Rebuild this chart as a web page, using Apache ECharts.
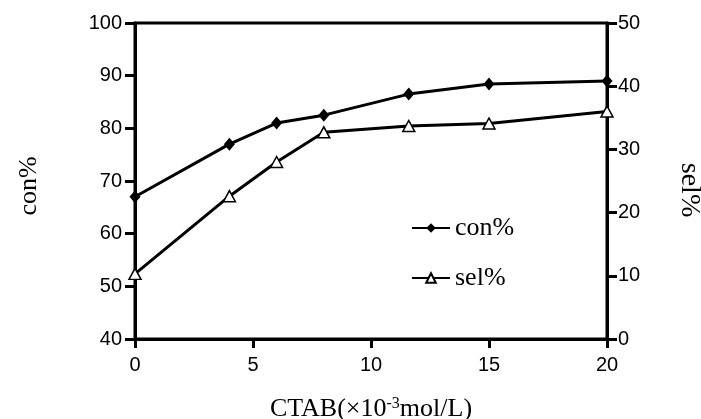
<!DOCTYPE html>
<html>
<head>
<meta charset="utf-8">
<script src="https://cdn.jsdelivr.net/npm/echarts@6/dist/echarts.min.js"></script>
<style>
html,body{margin:0;padding:0;background:#fff;}
#main{width:701px;height:419px;}
</style>
</head>
<body>
<div id="main"></div>
<script>
var ctab=[0,4,6,8,11.6,15,20];
var con=[67,77,81,82.5,86.5,88.4,89];
var sel=[10.3,22.6,28,32.7,33.7,34.1,36];

function pairs(xs,ys){
    var out=[];
    for(var i=0;i<xs.length;i++){
        out.push([xs[i],ys[i]]);
    }
    return out;
}

var tickFont={color:'#000',fontFamily:'Liberation Sans, Arial, sans-serif',fontSize:20};
var serif='Liberation Serif, Times New Roman, serif';

option = {
    animation:false,
    backgroundColor:'#fff',
    grid:{
        left:135,right:94,top:23,bottom:80,
        outerBoundsMode:'none',
        containLabel:false,
        show:true,borderColor:'#000',borderWidth:3
    },
    legend:{
        orient:'vertical',
        left:406,top:210,
        itemWidth:38,itemHeight:12,itemGap:24,
        textStyle:{fontFamily:serif,fontSize:26,color:'#000'},
        data:['con%','sel%']
    },
    xAxis:{
        type:'value',
        min:0,max:20,interval:5,
        name:'CTAB(×10{s|-3}mol/L)',
        nameLocation:'middle',
        nameGap:57,
        nameTextStyle:{
            fontFamily:serif,fontSize:26,color:'#000',
            rich:{s:{fontFamily:serif,fontSize:16,color:'#000',verticalAlign:'top',padding:[0,0,8,0]}}
        },
        axisLine:{lineStyle:{color:'#000',width:3}},
        axisTick:{length:9,lineStyle:{color:'#000',width:3}},
        axisLabel:Object.assign({margin:16},tickFont),
        splitLine:{show:false}
    },
    yAxis:[
        {
            type:'value',
            min:40,max:100,interval:10,
            name:'con%',
            nameLocation:'middle',
            nameGap:93,
            nameTextStyle:{fontFamily:serif,fontSize:26,color:'#000',padding:[0,10,0,0]},
            axisLine:{show:true,lineStyle:{color:'#000',width:3}},
            axisTick:{show:true,length:10,lineStyle:{color:'#000',width:3}},
            axisLabel:Object.assign({margin:13},tickFont),
            splitLine:{show:false}
        },
        {
            type:'value',
            min:0,max:50,interval:10,
            position:'right',
            name:'sel%',
            nameLocation:'middle',
            nameGap:68,
            nameRotate:-90,
            nameTextStyle:{fontFamily:serif,fontSize:28,color:'#000',padding:[0,0,0,18]},
            axisLine:{show:true,lineStyle:{color:'#000',width:3}},
            axisTick:{show:true,length:10,lineStyle:{color:'#000',width:3}},
            axisLabel:Object.assign({margin:11},tickFont),
            splitLine:{show:false}
        }
    ],
    series:[
        {
            name:'con%',
            type:'line',
            yAxisIndex:0,
            data:pairs(ctab,con),
            symbol:'diamond',
            symbolSize:[11,13],
            lineStyle:{color:'#000',width:3},
            itemStyle:{color:'#000'}
        },
        {
            name:'sel%',
            type:'line',
            yAxisIndex:1,
            data:pairs(ctab,sel),
            symbol:'triangle',
            symbolSize:[12,11],
            lineStyle:{color:'#000',width:3},
            itemStyle:{color:'#fff',borderColor:'#000',borderWidth:1.5}
        }
    ]
};
var myChart = echarts.init(document.getElementById('main'));
myChart.setOption(option);
window.onresize = myChart.resize;
</script>
</body>
</html>
